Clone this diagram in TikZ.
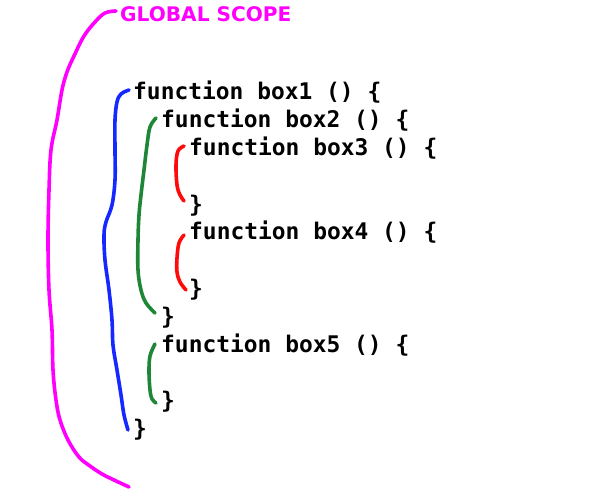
\documentclass[tikz,border=0pt]{standalone}
\usepackage{fontspec}
\newfontfamily\codefont{DejaVu Sans Mono}
\newfontfamily\labelfont{DejaVu Sans}
\definecolor{gmag}{RGB}{255,0,255}
\definecolor{bblue}{RGB}{20,40,255}
\definecolor{ggreen}{RGB}{30,135,55}
\definecolor{rred}{RGB}{255,10,10}
\begin{document}
\begin{tikzpicture}[x=1pt,y=-1pt,
  code/.style={anchor=base west,inner sep=0pt,font=\codefont\bfseries\fontsize{22.9}{26}\selectfont},
  glabel/.style={anchor=base west,inner sep=0pt,text=gmag,font=\labelfont\bfseries\fontsize{20.1}{22}\selectfont},
  brace/.style={line width=3.6pt,line cap=round,line join=round}]
\useasboundingbox (0,0) rectangle (600,500);
\fill[white] (0,0) rectangle (600,500);
\node[glabel] (gs) at (120,22) {GLOBAL SCOPE};
\node[code] (l1) at (133,100) {function box1 () \{};
\node[code] (l2) at (161,128) {function box2 () \{};
\node[code] (l3) at (189,156) {function box3 () \{};
\node[code] (l4) at (189,212) {\}};
\node[code] (l5) at (189,240) {function box4 () \{};
\node[code] (l6) at (189,296) {\}};
\node[code] (l7) at (161,324) {\}};
\node[code] (l8) at (161,352) {function box5 () \{};
\node[code] (l9) at (161,408) {\}};
\node[code] (l10) at (133,436) {\}};
% magenta
\draw[brace,gmag] plot[smooth,tension=0.6] coordinates {(116,11) (105,13) (95,22) (84,36) (74,56) (67,72) (62,90) (57,120) (51,150) (49,190) (48,240) (49,290) (52,330) (53,370) (56,400) (60,420) (68,440) (79,457) (90,466) (102,474) (114,480) (129,487)};
% blue
\draw[brace,bblue] plot[smooth,tension=0.6] coordinates {(129,90) (121,94) (117,102) (115,120) (115,150) (115,180) (112,205) (106,222) (104,235) (105,260) (109,290) (112,320) (113,345) (117,370) (121,395) (124,415) (128,430)};
% green box2
\draw[brace,ggreen] plot[smooth,tension=0.6] coordinates {(156,118) (150,127) (147,145) (144,170) (141,195) (139,215) (138,240) (138,270) (141,290) (146,303) (155,313)};
% red box3
\draw[brace,rred] plot[smooth,tension=0.6] coordinates {(184,146) (178,151) (176,165) (177,185) (180,195) (184,201)};
% red box4
\draw[brace,rred] plot[smooth,tension=0.6] coordinates {(184,235) (179,243) (177,258) (177,272) (180,282) (186,290)};
% green box5
\draw[brace,ggreen] plot[smooth,tension=0.6] coordinates {(155,344) (150,356) (149,372) (150,390) (152,399) (156,403)};
\end{tikzpicture}
\end{document}
